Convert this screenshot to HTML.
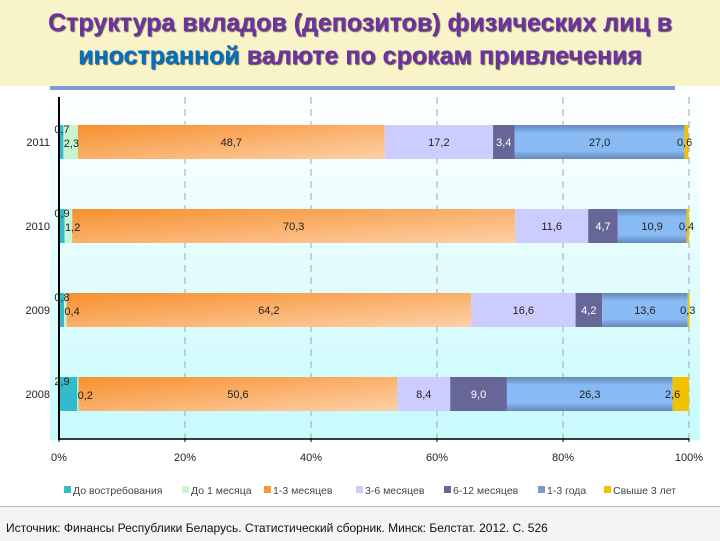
<!DOCTYPE html>
<html><head><meta charset="utf-8"><style>
body{margin:0;width:720px;height:540px;overflow:hidden;background:#fff;font-family:"Liberation Sans","DejaVu Sans",sans-serif;position:relative}
#title{position:absolute;left:0;top:0;width:720px;height:86px;background:#f8f3c8}
#title div{position:absolute;width:720px;text-align:center;font-weight:bold;font-size:25px;color:#7030a0;text-shadow:1px 1px 1px #555}
#rule{position:absolute;left:50px;top:86px;width:625px;height:4px;background:#7b9ad8}
#foot{position:absolute;left:0;top:506px;width:720px;height:34px;background:#f4f4f4;border-top:1px solid #bbb;font-size:12px;color:#111}
</style></head><body>
<div id="title">
<div style="top:9px">Структура вкладов (депозитов) физических лиц в</div>
<div style="top:42px"><span style="color:#0070c0">иностранной</span> валюте по срокам привлечения</div>
</div>
<div id="rule"></div>
<svg id="chart" width="720" height="505" style="position:absolute;left:0;top:0">
<defs>
<linearGradient id="bg" x1="0" y1="0" x2="0" y2="1"><stop offset="0" stop-color="#ffffff"/><stop offset="1" stop-color="#c8fafc"/></linearGradient>
<linearGradient id="gOr" x1="0" y1="0" x2="1" y2="1"><stop offset="0" stop-color="#f7902e"/><stop offset="1" stop-color="#fdd0a8"/></linearGradient>
<linearGradient id="gBl" x1="0" y1="0" x2="0" y2="1"><stop offset="0" stop-color="#6688bb"/><stop offset="0.25" stop-color="#88bbf4"/><stop offset="0.75" stop-color="#88bbf4"/><stop offset="1" stop-color="#6688bb"/></linearGradient>
</defs>
<rect x="50" y="92" width="650" height="348" fill="url(#bg)"/>
<g id="grid"></g><g id="bars"></g><g id="labels"></g><g id="axes"></g><g id="legend"></g>
</svg>
<div id="foot"><span style="position:absolute;left:6px;top:14px">Источник: Финансы Республики Беларусь. Статистический сборник. Минск: Белстат. 2012. С. 526</span></div>
<script>
const years=["2011","2010","2009","2008"];
const seriesNames=["До востребования","До 1 месяца","1-3 месяцев","3-6 месяцев","6-12 месяцев","1-3 года","Свыше 3 лет"];
const s1=[0.7,0.9,0.8,2.9];
const s2=[2.3,1.2,0.4,0.2];
const s3=[48.7,70.3,64.2,50.6];
const s4=[17.2,11.6,16.6,8.4];
const s5=[3.4,4.7,4.2,9.0];
const s6=[27.0,10.9,13.6,26.3];
const s7=[0.6,0.4,0.3,2.6];
const ticks=[0,20,40,60,80,100];
const series=[s1,s2,s3,s4,s5,s6,s7];
const colors=["#33bbcc","#c8f5d0","url(#gOr)","#ccccff","#666699","url(#gBl)","#f2c200"];
const legColors=["#33bbcc","#c8f5d0","#f7963c","#ccccff","#666699","#7799cc","#f2c200"];
const NS="http://www.w3.org/2000/svg";
const X0=59,X1=689,Y0=100,BAND=84,BH=34;
const xs=v=>X0+(X1-X0)*v/100;
const yb=i=>Y0+BAND*i+25;
function mk(t,a,p){const e=document.createElementNS(NS,t);for(const k in a)e.setAttribute(k,a[k]);p.appendChild(e);return e;}
const grid=document.getElementById('grid'),bars=document.getElementById('bars'),labels=document.getElementById('labels'),axes=document.getElementById('axes'),leg=document.getElementById('legend');
ticks.forEach(t=>{
 if(t>0){const l=mk('line',{x1:xs(t),x2:xs(t),y1:97,y2:438,stroke:'#99aab0','stroke-dasharray':'7,5'},grid);
 }
 const tx=mk('text',{x:xs(t),y:461,'font-size':11,'text-anchor':'middle',fill:'#222'},axes);tx.textContent=t+'%';
 
 mk('line',{x1:xs(t),x2:xs(t),y1:438,y2:442,stroke:'#000'},axes);
});
mk('line',{x1:X0,x2:X0,y1:97,y2:440,stroke:'#000','stroke-width':2},axes);
mk('line',{x1:X0,x2:X1,y1:439,y2:439,stroke:'#000','stroke-width':1.5},axes);
years.forEach((y,i)=>{
 const yy=yb(i);
 const t=mk('text',{x:50,y:yy+BH/2+4,'font-size':11,'text-anchor':'end',fill:'#222'},axes);t.textContent=y;
 
 let cum=0;
 series.forEach((s,k)=>{
  const v=s[i];const xa=xs(cum),xb=xs(cum+v);cum+=v;
  const r=mk('rect',{x:xa,y:yy,width:Math.max(0,xb-xa),height:BH,fill:colors[k]},bars);
  
  let lx=(xa+xb)/2,ly=yy+BH/2+4;
  if(k===0){lx=xa+3;ly=yy+8;}
  else if(k===1){lx=xa+8;ly=yy+BH/2+5;}
  else if(k===6){lx=xa;}
  const lb=mk('text',{x:lx,y:ly,'font-size':11,'text-anchor':'middle',fill:k===4?'#fff':'#222'},labels);
  lb.textContent=v.toFixed(1).replace('.',',');
  
 });
});
let lx=64;
const widths=[118,82,92,88,94,66,80];
seriesNames.forEach((n,k)=>{
 mk('rect',{x:lx,y:486,width:7,height:7,fill:legColors[k]},leg);
 const t=mk('text',{x:lx+9,y:494,'font-size':10.5,fill:'#444'},leg);t.textContent=n;
 
 lx+=widths[k];
});
</script>
</body></html>
